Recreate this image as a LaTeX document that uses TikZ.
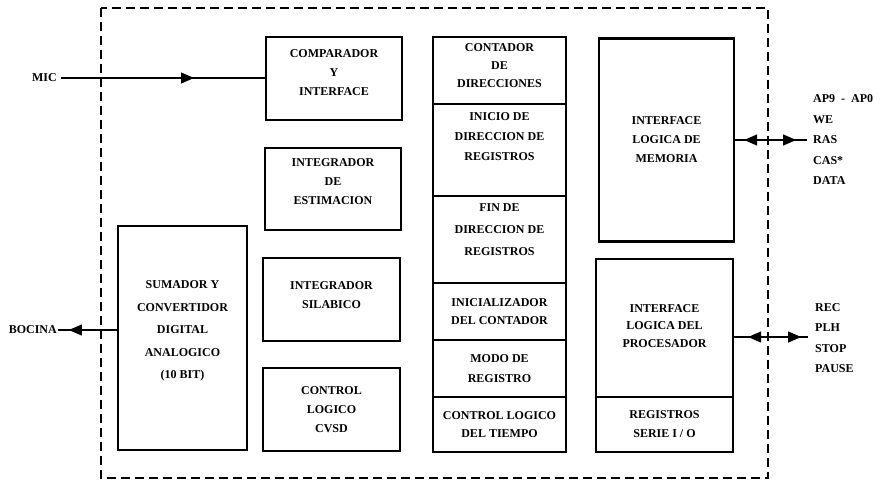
\documentclass[tikz,border=0pt]{standalone}
\usepackage{fontspec}
\setmainfont{Liberation Serif}
\usetikzlibrary{arrows.meta,decorations.markings}

\begin{document}
\begin{tikzpicture}[x=1pt,y=-1pt,
  bloque/.style={draw,line width=2.2pt,align=center,inner sep=0pt,
    font=\fontsize{12}{19}\selectfont\bfseries},
  senal/.style={font=\fontsize{12}{20.5}\selectfont\bfseries,align=left,inner sep=0pt},
  conexion/.style={line width=1.1pt,postaction={decorate}},
  >={Triangle[length=13pt,width=11pt]}]
\useasboundingbox (0,0) rectangle (895,482);

% frontera del circuito
\draw[line width=1.3pt,dash pattern=on 9pt off 5pt] (101,8) rectangle (768,478);

% primera columna
\node[bloque,minimum width=129pt,minimum height=224pt,
  font=\fontsize{12}{22.5}\selectfont\bfseries] (sum) at (182.5,338)
  {SUMADOR Y\\CONVERTIDOR\\DIGITAL\\ANALOGICO\\(10 BIT)\\[-6pt]\mbox{}};

% segunda columna
\node[bloque,minimum width=136pt,minimum height=83pt] (comp) at (334,78.5)
  {COMPARADOR\\Y\\INTERFACE\\[-8pt]\mbox{}};
\node[bloque,minimum width=136pt,minimum height=82pt] (est) at (333,189)
  {INTEGRADOR\\DE\\ESTIMACION\\[-5pt]\mbox{}};
\node[bloque,minimum width=137pt,minimum height=83pt] (sil) at (331.5,299.5)
  {INTEGRADOR\\SILABICO\\[-10pt]\mbox{}};
\node[bloque,minimum width=137pt,minimum height=83pt] (cvsd) at (331.5,409.5)
  {CONTROL\\LOGICO\\CVSD};

% tercera columna
\begin{scope}[bloque/.append style={minimum width=133pt,font=\fontsize{12}{18}\selectfont\bfseries}]
\node[bloque,minimum height=67pt] (cont) at (499.5,70.5)
  {CONTADOR\\DE\\DIRECCIONES\\[-8pt]\mbox{}};
\node[bloque,minimum height=92pt] (ini) at (499.5,150)
  {INICIO DE\\[2pt]DIRECCION DE\\[2pt]REGISTROS\\[8pt]\mbox{}};
\node[bloque,minimum height=87pt] (fin) at (499.5,239.5)
  {FIN DE\\[4pt]DIRECCION DE\\[4pt]REGISTROS\\[1pt]\mbox{}};
\node[bloque,minimum height=57pt] (inic) at (499.5,311.5)
  {INICIALIZADOR\\DEL CONTADOR};
\node[bloque,minimum height=57pt] (modo) at (499.5,368.5)
  {MODO DE\\[2pt]REGISTRO};
\node[bloque,minimum height=55pt] (tiem) at (499.5,424.5)
  {CONTROL LOGICO\\DEL TIEMPO};
\end{scope}

% cuarta columna
\node[bloque,minimum width=135pt,minimum height=203pt] (mem) at (666.5,140)
  {INTERFACE\\LOGICA DE\\MEMORIA};
\node[bloque,minimum width=137pt,minimum height=138pt,
  font=\fontsize{12}{17.5}\selectfont\bfseries] (proc) at (664.5,328)
  {INTERFACE\\LOGICA DEL\\PROCESADOR\\[-13pt]\mbox{}};
\node[bloque,minimum width=137pt,minimum height=55pt] (reg) at (664.5,424.5)
  {REGISTROS\\SERIE I / O};

% entradas y salidas
\node[senal,anchor=east] (mic) at (57,78) {MIC};
\node[senal,anchor=east] (boc) at (57,330) {BOCINA};
\node[senal,anchor=west] (memsen) at (813,140)
  {AP9~~-~~AP0\\WE\\RAS\\CAS*\\DATA};
\node[senal,anchor=west] (procsen) at (815,338)
  {REC\\PLH\\STOP\\PAUSE};
\coordinate (m1) at (807,140);
\coordinate (p1) at (808,337);

\draw[conexion,decoration={markings,
  mark=at position 133pt with {\arrow{>}}}]
  ([xshift=4pt]mic.east) -- (comp.west |- mic.east);
\draw[conexion,decoration={markings,
  mark=at position 48pt with {\arrow{>}}}]
  (sum.west |- boc.east) -- ([xshift=1pt]boc.east);
\draw[conexion,decoration={markings,
  mark=at position 9pt with {\arrowreversed{>}},
  mark=at position 61pt with {\arrow{>}}}]
  (mem.east |- m1) -- (m1);
\draw[conexion,decoration={markings,
  mark=at position 14pt with {\arrowreversed{>}},
  mark=at position 67pt with {\arrow{>}}}]
  (proc.east |- p1) -- (p1);
\end{tikzpicture}
\end{document}
